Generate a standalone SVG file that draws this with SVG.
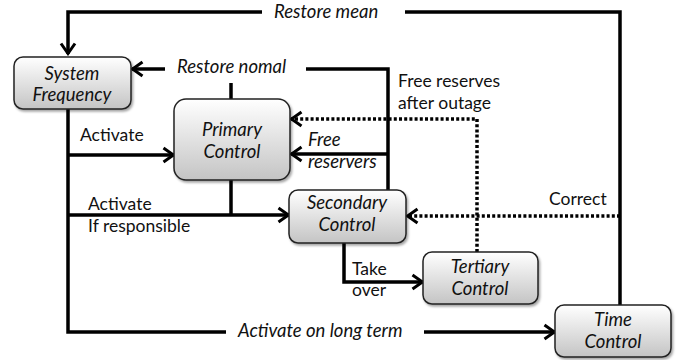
<svg xmlns="http://www.w3.org/2000/svg" width="684" height="360" viewBox="0 0 684 360">
<defs>
<linearGradient id="g" x1="0" y1="0" x2="0" y2="1">
<stop offset="0" stop-color="#ffffff"/>
<stop offset="1" stop-color="#c4c4c4"/>
</linearGradient>
<filter id="sh" x="-10%" y="-10%" width="130%" height="130%">
<feDropShadow dx="1.5" dy="2" stdDeviation="1.2" flood-color="#000" flood-opacity="0.35"/>
</filter>
<marker id="ar" viewBox="0 0 14 18" refX="12.5" refY="9" markerWidth="14" markerHeight="18" markerUnits="userSpaceOnUse" orient="auto">
<path d="M2,2 L12,9 L2,16" fill="none" stroke="#000" stroke-width="3"/>
</marker>
</defs>
<style>
.box{fill:url(#g);stroke:#222;stroke-width:1.5;filter:url(#sh)}
.ln{fill:none;stroke:#000;stroke-width:3.5}
.dt{fill:none;stroke:#000;stroke-width:3.5;stroke-dasharray:3,2.2}
.t{font-family:Lato,"Liberation Sans",sans-serif;font-size:17.5px;fill:#111}
.i{font-style:italic;font-size:18.5px}
.c{text-anchor:middle}
</style>
<g id="connectors">
<path class="ln" d="M620,305 V12 H405"/>
<path class="ln" d="M262,12 H68 V54" marker-end="url(#ar)"/>
<path class="ln" d="M388,190 V69 H306"/>
<path class="ln" d="M165,69 H132" marker-end="url(#ar)"/>
<path class="ln" d="M231,99 V83"/>
<path class="ln" d="M388,154 H291" marker-end="url(#ar)"/>
<path class="dt" d="M477,252 V119 H291" marker-end="url(#ar)"/>
<path class="dt" d="M620,216 H407" marker-end="url(#ar)"/>
<path class="ln" d="M68,108 V332 H226"/>
<path class="ln" d="M424,332 H555" marker-end="url(#ar)"/>
<path class="ln" d="M68,155 H174" marker-end="url(#ar)"/>
<path class="ln" d="M68,215 H289" marker-end="url(#ar)"/>
<path class="ln" d="M231,180 V215"/>
<path class="ln" d="M344,243 V282 H423" marker-end="url(#ar)"/>
</g>
<g id="system-frequency">
<rect class="box" x="14" y="57" width="117" height="52" rx="9"/>
<text class="t i c" x="72" y="80">System</text>
<text class="t i c" x="72" y="101">Frequency</text>
</g>
<g id="primary-control">
<rect class="box" x="174" y="99" width="116" height="81" rx="12"/>
<text class="t i c" x="232" y="136">Primary</text>
<text class="t i c" x="232" y="158">Control</text>
</g>
<g id="secondary-control">
<rect class="box" x="289" y="190" width="117" height="53" rx="9"/>
<text class="t i c" x="347" y="209">Secondary</text>
<text class="t i c" x="347" y="231">Control</text>
</g>
<g id="tertiary-control">
<rect class="box" x="423" y="252" width="115" height="52" rx="9"/>
<text class="t i c" x="480" y="273">Tertiary</text>
<text class="t i c" x="480" y="295">Control</text>
</g>
<g id="time-control">
<rect class="box" x="555" y="305" width="116" height="52" rx="9"/>
<text class="t i c" x="613" y="326">Time</text>
<text class="t i c" x="613" y="348">Control</text>
</g>
<g id="labels">
<text class="t i" x="274" y="18">Restore mean</text>
<text class="t i" x="177" y="73">Restore nomal</text>
<text class="t" x="398" y="87">Free reserves</text>
<text class="t" x="398" y="109">after outage</text>
<text class="t" x="80" y="141">Activate</text>
<text class="t i" x="308" y="146">Free</text>
<text class="t i" x="308" y="168">reservers</text>
<text class="t" x="549" y="205">Correct</text>
<text class="t" x="88" y="210">Activate</text>
<text class="t" x="88" y="232">If responsible</text>
<text class="t" x="352" y="275">Take</text>
<text class="t" x="352" y="296">over</text>
<text class="t i" x="238" y="337">Activate on long term</text>
</g>
</svg>
